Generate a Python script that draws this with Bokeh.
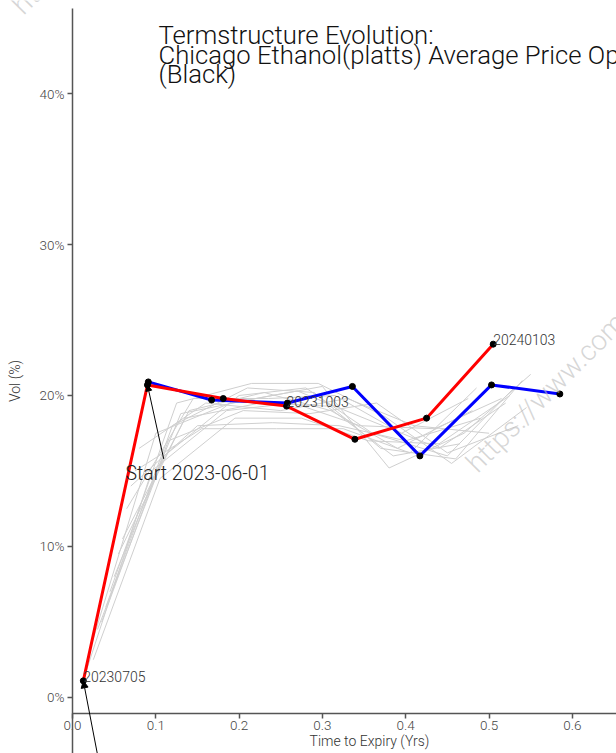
from bokeh.plotting import figure
from bokeh.models import Range1d, Label, Arrow, NormalHead, FixedTicker, PrintfTickFormatter
from bokeh.embed import file_html
from bokeh.resources import INLINE

# ---------------- data ----------------
red_x = [0.013, 0.090, 0.181, 0.257, 0.339, 0.425, 0.505]
red_y = [1.1, 20.7, 19.8, 19.3, 17.1, 18.5, 23.4]

blue_x = [0.091, 0.167, 0.258, 0.336, 0.417, 0.503, 0.585]
blue_y = [20.9, 19.7, 19.5, 20.6, 16.0, 20.7, 20.1]

gray_x = [
    [0.020, 0.100, 0.190, 0.270, 0.350, 0.440, 0.520],
    [0.030, 0.110, 0.200, 0.280, 0.360, 0.450, 0.530],
    [0.040, 0.120, 0.210, 0.290, 0.370, 0.460, 0.540],
    [0.050, 0.130, 0.220, 0.300, 0.380, 0.470, 0.550],
    [0.060, 0.140, 0.230, 0.310, 0.390, 0.480],
    [0.070, 0.150, 0.240, 0.320, 0.400, 0.490],
    [0.080, 0.160, 0.250, 0.330, 0.410, 0.500],
    [0.015, 0.095, 0.185, 0.265, 0.345, 0.435, 0.515],
    [0.025, 0.105, 0.195, 0.275, 0.355, 0.440, 0.525],
    [0.035, 0.115, 0.205, 0.285, 0.365, 0.450, 0.535],
    [0.045, 0.125, 0.215, 0.295, 0.375, 0.455, 0.545],
    [0.055, 0.135, 0.225, 0.305, 0.385, 0.465],
    [0.065, 0.145, 0.235, 0.315, 0.395, 0.475],
    [0.075, 0.155, 0.245, 0.325, 0.405, 0.485],
]
gray_y = [
    [3.0, 17.5, 19.5, 20.3, 18.5, 16.5, 19.5],
    [4.5, 16.0, 20.0, 20.5, 17.5, 16.0, 20.5],
    [6.0, 18.0, 20.5, 20.2, 16.5, 15.8, 21.0],
    [8.0, 18.8, 19.8, 20.6, 15.2, 17.5, 21.4],
    [10.5, 19.0, 20.2, 19.0, 16.5, 19.0],
    [14.0, 18.0, 18.2, 18.0, 17.0, 18.5],
    [16.5, 19.5, 19.0, 19.8, 18.0, 17.5],
    [1.5, 15.0, 19.0, 19.5, 18.0, 17.8, 19.8],
    [2.5, 14.5, 18.5, 18.5, 17.0, 16.8, 20.0],
    [5.0, 17.0, 19.0, 18.8, 19.5, 16.2, 18.0],
    [7.0, 19.5, 20.8, 20.8, 18.6, 15.5, 19.2],
    [9.5, 18.5, 19.5, 19.3, 16.0, 16.8],
    [12.5, 19.8, 19.8, 20.0, 17.5, 19.8],
    [15.0, 17.8, 17.8, 17.8, 16.2, 20.5],
]

x_ticks = [0.0, 0.1, 0.2, 0.3, 0.4, 0.5, 0.6]
y_ticks = [0, 10, 20, 30, 40]

title_lines = ["Termstructure Evolution:",
               "Chicago Ethanol(platts) Average Price Options",
               "(Black)"]
point_labels = ["20230705", "20231003", "20240103"]
point_label_idx = [0, 3, 6]
start_text = "Start 2023-06-01"
x_title = "Time to Expiry (Yrs)"
y_title = "Vol (%)"
watermark = "https://www.commodity"

FONT = "Roboto Light"
AX = "#555555"
X_MIN, X_MAX = -0.0864, 0.653
Y_MIN, Y_MAX = -3.71, 46.16
X_AXIS_AT = -1.06
Y_AXIS_TOP = 45.63

p = figure(width=616, height=753, output_backend="svg", toolbar_location=None,
           x_range=Range1d(X_MIN, X_MAX), y_range=Range1d(Y_MIN, Y_MAX),
           min_border_left=0, min_border_right=0, min_border_top=0,
           min_border_bottom=0)
p.outline_line_color = None
p.grid.visible = False
p.background_fill_color = "white"

# axes drawn inside the frame
p.xaxis.fixed_location = X_AXIS_AT
p.yaxis.fixed_location = 0
p.xaxis.bounds = (0, X_MAX)
p.yaxis.bounds = (Y_MIN, Y_AXIS_TOP)
p.xaxis.ticker = FixedTicker(ticks=x_ticks)
p.yaxis.ticker = FixedTicker(ticks=y_ticks)
p.yaxis.formatter = PrintfTickFormatter(format="%d%%")
p.xaxis.formatter = PrintfTickFormatter(format="%.1f")
for ax in (p.xaxis, p.yaxis):
    ax.axis_line_color = AX
    ax.axis_line_width = 1.5
    ax.major_tick_line_color = AX
    ax.major_tick_line_width = 1.5
    ax.minor_tick_line_color = None
    ax.major_tick_in = 0
    ax.major_tick_out = 5
    ax.major_label_text_color = "#444444"
    ax.major_label_text_font = FONT
    ax.major_label_text_font_size = "13.5px"
    ax.axis_label_text_font = FONT
    ax.axis_label_text_font_style = "normal"
    ax.axis_label_text_font_size = "14px"
    ax.axis_label_text_color = "#333333"
p.xaxis.major_label_standoff = 3
p.yaxis.major_label_standoff = 3
p.yaxis.axis_label = y_title
p.yaxis.axis_label_standoff = 14

# x axis title (centred on the full original axis width)
p.add_layout(Label(x=0.3565, y=-3.41, text=x_title, text_font=FONT,
                   text_font_size="14px", text_color="#333333",
                   text_align="center", text_baseline="bottom"))

# watermarks
for (wx, wy) in [(0.4924, 14.47), (-0.0528, 44.8)]:
    p.add_layout(Label(x=wx, y=wy, text=watermark, angle=45, angle_units="deg",
                       text_font=FONT, text_font_size="28px",
                       text_color="#bbbbbb", text_alpha=0.6))

# data
p.multi_line(xs=gray_x, ys=gray_y, line_color="#cfcfcf", line_width=1)
p.line(blue_x, blue_y, line_color="blue", line_width=3)
p.line(red_x, red_y, line_color="red", line_width=3)
p.scatter(blue_x, blue_y, size=6, color="black")
p.scatter(red_x, red_y, size=6, color="black")

for t, i in zip(point_labels, point_label_idx):
    p.add_layout(Label(x=red_x[i], y=red_y[i], text=t, text_font=FONT,
                       text_font_size="14px", text_color="#333333",
                       text_baseline="bottom", y_offset=-1))

# annotation arrows
p.add_layout(Arrow(x_start=0.1095, y_start=15.8, x_end=red_x[1], y_end=red_y[1],
                   line_color="black", line_width=1,
                   end=NormalHead(size=6, fill_color="black", line_color="black")))
p.add_layout(Label(x=0.0636, y=14.1, text=start_text, text_font=FONT,
                   text_font_size="19.5px", text_color="#222222"))
p.add_layout(Arrow(x_start=0.0315, y_start=-4.2, x_end=red_x[0], y_end=red_y[0],
                   line_color="black", line_width=1,
                   end=NormalHead(size=7, fill_color="black", line_color="black")))

# title
for t, ty in zip(title_lines, [43.86, 42.57, 41.28]):
    p.add_layout(Label(x=0.1032, y=ty, text=t, text_font=FONT,
                       text_font_size="25.7px", text_color="#111111",
                       text_baseline="alphabetic"))

open("out.html", "w").write(file_html(p, INLINE))
